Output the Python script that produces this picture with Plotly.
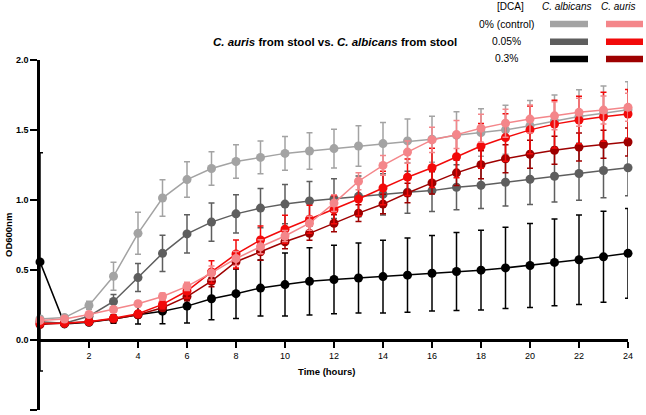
import plotly.graph_objects as go

time_h = list(range(25))

alb_0 = [0.15, 0.16, 0.247, 0.455, 0.762, 1.014, 1.146, 1.225, 1.275, 1.304, 1.333, 1.35, 1.367,
         1.386, 1.403, 1.422, 1.434, 1.463, 1.482, 1.501, 1.53, 1.565, 1.597, 1.62, 1.645]
alb_0_err = [0.02, 0.02, 0.03, 0.1, 0.15, 0.13, 0.127, 0.12, 0.12, 0.117, 0.12, 0.13, 0.138,
             0.145, 0.15, 0.156, 0.165, 0.168, 0.17, 0.175, 0.18, 0.185, 0.19, 0.195, 0.2]

alb_005 = [0.13, 0.12, 0.17, 0.275, 0.446, 0.619, 0.758, 0.842, 0.901, 0.942, 0.971, 0.993, 1.009,
           1.026, 1.04, 1.055, 1.067, 1.091, 1.105, 1.127, 1.148, 1.17, 1.189, 1.211, 1.23]
alb_005_err = [0.01, 0.01, 0.02, 0.05, 0.1, 0.13, 0.136, 0.136, 0.137, 0.14, 0.14, 0.14, 0.142,
               0.145, 0.147, 0.15, 0.15, 0.16, 0.165, 0.17, 0.18, 0.185, 0.19, 0.195, 0.2]

alb_03 = [0.558, 0.115, 0.127, 0.15, 0.18, 0.206, 0.242, 0.295, 0.331, 0.371, 0.396, 0.419, 0.432,
          0.443, 0.453, 0.463, 0.477, 0.489, 0.499, 0.515, 0.532, 0.554, 0.573, 0.594, 0.619]
alb_03_err = [0.78, 0.01, 0.015, 0.03, 0.065, 0.09, 0.12, 0.15, 0.177, 0.2, 0.225, 0.24, 0.245,
              0.25, 0.26, 0.265, 0.27, 0.278, 0.285, 0.29, 0.3, 0.31, 0.32, 0.325, 0.32]

aur_0 = [0.14, 0.15, 0.182, 0.218, 0.259, 0.311, 0.383, 0.479, 0.582, 0.666, 0.743, 0.834, 0.978,
         1.134, 1.247, 1.342, 1.429, 1.467, 1.513, 1.549, 1.578, 1.601, 1.626, 1.642, 1.662]
aur_0_err = [0.01, 0.01, 0.015, 0.02, 0.02, 0.025, 0.03, 0.05, 0.05, 0.05, 0.04, 0.05, 0.06,
             0.06, 0.07, 0.08, 0.09, 0.1, 0.1, 0.1, 0.1, 0.1, 0.1, 0.1, 0.1]

aur_005 = [0.12, 0.12, 0.13, 0.155, 0.187, 0.254, 0.35, 0.486, 0.614, 0.714, 0.791, 0.863, 0.93,
           1.007, 1.086, 1.163, 1.23, 1.309, 1.386, 1.446, 1.501, 1.542, 1.571, 1.594, 1.614]
aur_005_err = [0.01, 0.01, 0.01, 0.02, 0.02, 0.03, 0.05, 0.08, 0.1, 0.1, 0.1, 0.1, 0.1,
               0.12, 0.12, 0.13, 0.14, 0.15, 0.16, 0.17, 0.17, 0.17, 0.17, 0.175, 0.175]

aur_03 = [0.11, 0.12, 0.13, 0.15, 0.18, 0.23, 0.31, 0.42, 0.559, 0.63, 0.702, 0.762, 0.834,
          0.906, 0.971, 1.05, 1.122, 1.194, 1.252, 1.295, 1.326, 1.355, 1.378, 1.398, 1.414]
aur_03_err = [0.01, 0.01, 0.01, 0.015, 0.02, 0.02, 0.03, 0.04, 0.05, 0.06, 0.05, 0.05, 0.06,
              0.06, 0.07, 0.07, 0.08, 0.09, 0.1, 0.1, 0.1, 0.1, 0.1, 0.1, 0.1]

dca_labels = ["0% (control)", "0.05%", "0.3%"]
alb_colors = ["#A3A3A3", "#5E5E5E", "#000000"]
aur_colors = ["#F4868A", "#F20A0A", "#9E0000"]

FONT = "Liberation Sans, Arial, sans-serif"
W, H = 646, 415
L, R, T, B = 40, 18, 60, 5
PW, PH = W - L - R, H - T - B


def px(x):
    return (x - L) / PW


def py(y):
    return (H - B - y) / PH


fig = go.Figure()

series = [
    (alb_03, alb_03_err, alb_colors[2]),
    (alb_005, alb_005_err, alb_colors[1]),
    (alb_0, alb_0_err, alb_colors[0]),
    (aur_03, aur_03_err, aur_colors[2]),
    (aur_005, aur_005_err, aur_colors[1]),
    (aur_0, aur_0_err, aur_colors[0]),
]
for vals, errs, col in series:
    fig.add_trace(go.Scatter(
        x=time_h, y=vals, mode="lines+markers",
        line=dict(color=col, width=1.5),
        marker=dict(color=col, size=9),
        error_y=dict(type="data", array=errs, visible=True, color=col, thickness=1.5, width=3),
        cliponaxis=False, showlegend=False,
    ))

annotations = []
shapes = []
# Title
annotations.append(dict(
    text="<b><i>C. auris</i> from stool vs. <i>C. albicans</i> from stool</b>",
    xref="paper", yref="paper", x=px(335), y=py(42), showarrow=False,
    font=dict(family=FONT, size=11.5, color="black"), xanchor="center", yanchor="middle"))
# Legend header
for txt, cx in [("[DCA]", 510), ("<i>C. albicans</i>", 566.5), ("<i>C. auris</i>", 618)]:
    annotations.append(dict(text=txt, xref="paper", yref="paper", x=px(cx), y=py(7),
                            showarrow=False, font=dict(family=FONT, size=10, color="black"),
                            xanchor="center", yanchor="middle"))
row_y = [24, 41.7, 59]
for i, lab in enumerate(dca_labels):
    annotations.append(dict(text=lab, xref="paper", yref="paper", x=px(506.5), y=py(row_y[i]),
                            showarrow=False, font=dict(family=FONT, size=10.3, color="black"),
                            xanchor="center", yanchor="middle"))
    shapes.append(dict(type="rect", xref="paper", yref="paper", x0=px(550), x1=px(588),
                       y0=py(row_y[i] - 3.2), y1=py(row_y[i] + 3.2),
                       fillcolor=alb_colors[i], line=dict(width=0)))
    shapes.append(dict(type="rect", xref="paper", yref="paper", x0=px(606), x1=px(643),
                       y0=py(row_y[i] - 3.2), y1=py(row_y[i] + 3.2),
                       fillcolor=aur_colors[i], line=dict(width=0)))
# Axis titles
annotations.append(dict(text="<b>OD600nm</b>", xref="paper", yref="paper", x=px(8), y=0.5,
                        textangle=-90, showarrow=False,
                        font=dict(family=FONT, size=9.5, color="black"),
                        xanchor="center", yanchor="middle"))
annotations.append(dict(text="<b>Time (hours)</b>", xref="paper", yref="paper", x=px(326), y=py(371),
                        showarrow=False, font=dict(family=FONT, size=9.5, color="black"),
                        xanchor="center", yanchor="middle"))

fig.update_layout(
    width=W, height=H,
    margin=dict(l=L, r=R, t=T, b=B, autoexpand=False),
    paper_bgcolor="white", plot_bgcolor="white",
    font=dict(family=FONT, color="black"),
    annotations=annotations, shapes=shapes,
    xaxis=dict(range=[0, 24], tickvals=list(range(2, 25, 2)), ticks="outside", ticklen=6,
               tickwidth=2, tickcolor="black", showline=True, linewidth=2.5, linecolor="black",
               showgrid=False, zeroline=False, anchor="free", position=0.2,
               tickfont=dict(family=FONT, size=9, color="black"), automargin=False,
               tickprefix="<b>", ticksuffix="</b>"),
    yaxis=dict(range=[-0.5, 2.0], tickvals=[-0.5, 0, 0.5, 1.0, 1.5, 2.0],
               ticktext=["<b>-0.5</b>", "<b>0.0</b>", "<b>0.5</b>", "<b>1.0</b>", "<b>1.5</b>", "<b>2.0</b>"],
               ticks="outside", ticklen=7, tickwidth=2, tickcolor="black",
               showline=True, linewidth=2.5, linecolor="black", showgrid=False, zeroline=False,
               tickfont=dict(family=FONT, size=9, color="black"), automargin=False),
)

fig.write_html("out.html")
